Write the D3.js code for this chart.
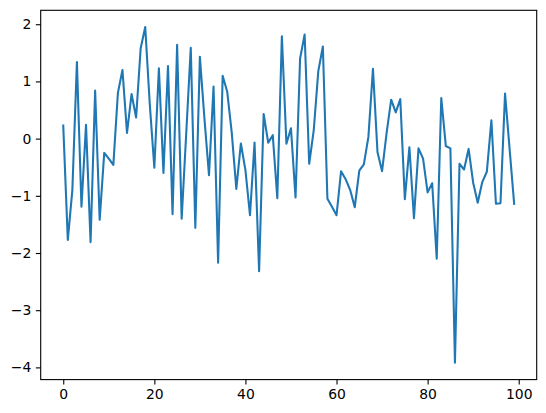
<!DOCTYPE html>
<html>
<head>
<meta charset="utf-8">
<script src="https://cdn.jsdelivr.net/npm/d3@7"></script>
<style>
  html, body { margin: 0; padding: 0; background: #fff; }
  svg { display: block; }
  text { font-family: "DejaVu Sans", sans-serif; }
</style>
</head>
<body>
<svg id="chart" width="546" height="413"></svg>
<script>
const values = [
  0.23, -1.77, -0.90, 1.34, -1.19, 0.24, -1.81, 0.84, -1.42, -0.25,
  -0.35, -0.46, 0.80, 1.20, 0.10, 0.78, 0.37, 1.58, 1.95, 0.60,
  -0.51, 1.23, -0.60, 1.27, -1.32, 1.64, -1.40, 0.09, 1.59, -1.56,
  1.43, 0.35, -0.64, 0.91, -2.17, 1.10, 0.82, 0.10, -0.88, -0.085,
  -0.55, -1.34, -0.07, -2.32, 0.43, -0.07, 0.06, -1.04, 1.79, -0.09,
  0.18, -1.03, 1.40, 1.82, -0.44, 0.15, 1.18, 1.61, -1.05, -1.19,
  -1.34, -0.57, -0.71, -0.90, -1.20, -0.56, -0.45, 0.03, 1.22, -0.24,
  -0.57, 0.10, 0.68, 0.46, 0.69, -1.06, -0.15, -1.39, -0.17, -0.35,
  -0.94, -0.78, -2.10, 0.71, -0.13, -0.17, -3.92, -0.44, -0.54, -0.18,
  -0.77, -1.12, -0.76, -0.58, 0.32, -1.14, -1.13, 0.79, -0.18, -1.14
];
const indices = values.map((v, i) => i);
const xTicks = [0, 20, 40, 60, 80, 100];
const yTicks = [-4, -3, -2, -1, 0, 1, 2];

(function () {
const svg = d3.select("#chart");
const mLeft = 40.7, mTop = 10.3, width = 496, height = 369.3;
const mRight = mLeft + width, mBottom = mTop + height;

const xMin = d3.min(indices), xMax = d3.max(indices);
const xPad = (xMax - xMin) * 0.05;
const yMin = d3.min(values), yMax = d3.max(values);
const yPad = (yMax - yMin) * 0.05;

const x = d3.scaleLinear().domain([xMin - xPad, xMax + xPad]).range([mLeft, mRight]);
const y = d3.scaleLinear().domain([yMin - yPad, yMax + yPad]).range([mBottom, mTop]);

const fmt = d => String(d).replace("-", "\u2212");

svg.append("clipPath").attr("id", "clip")
  .append("rect").attr("x", mLeft).attr("y", mTop).attr("width", width).attr("height", height);

svg.append("path")
  .datum(values)
  .attr("clip-path", "url(#clip)")
  .attr("fill", "none")
  .attr("stroke", "#1f77b4")
  .attr("stroke-width", 2.08)
  .attr("stroke-linejoin", "round")
  .attr("stroke-linecap", "square")
  .attr("d", d3.line().x((d, i) => x(indices[i])).y(d => y(d)));

const xAxis = svg.append("g")
  .attr("transform", `translate(0,${mBottom})`)
  .call(d3.axisBottom(x).tickValues(xTicks).tickSize(4.86).tickPadding(4.5).tickFormat(fmt));
const yAxis = svg.append("g")
  .attr("transform", `translate(${mLeft},0)`)
  .call(d3.axisLeft(y).tickValues(yTicks).tickSize(4.86).tickPadding(4.5).tickFormat(fmt));

[xAxis, yAxis].forEach(g => {
  g.select(".domain").remove();
  g.selectAll(".tick line").attr("stroke", "#000").attr("stroke-width", 1.1);
  g.selectAll(".tick text").attr("fill", "#000")
    .style("font-family", "'DejaVu Sans', sans-serif").style("font-size", "13.9px");
});

svg.append("rect")
  .attr("x", mLeft).attr("y", mTop).attr("width", width).attr("height", height)
  .attr("fill", "none").attr("stroke", "#000").attr("stroke-width", 1.1);
})();
</script>
</body>
</html>
